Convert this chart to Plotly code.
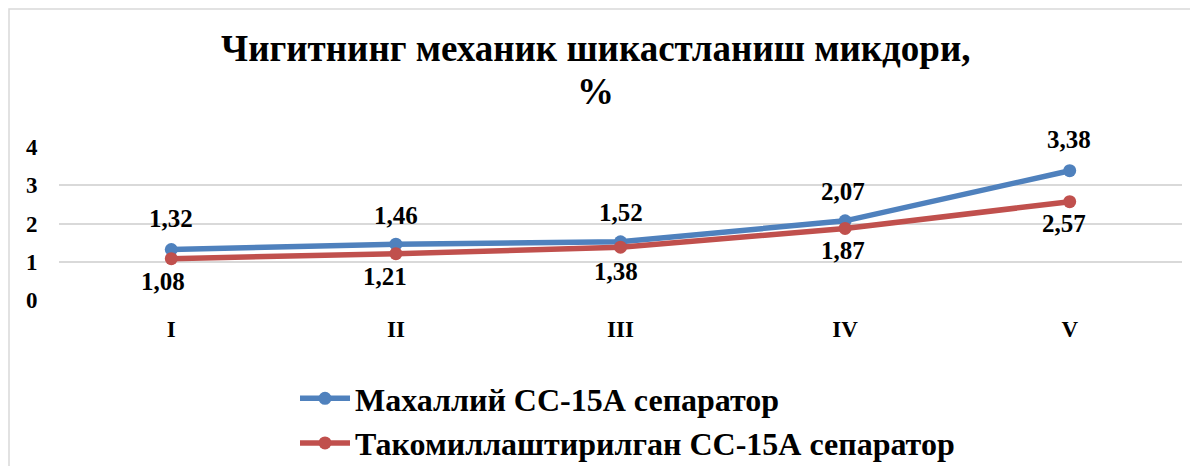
import plotly.graph_objects as go

categories = ["I", "II", "III", "IV", "V"]
local_vals = [1.32, 1.46, 1.52, 2.07, 3.38]
improved_vals = [1.08, 1.21, 1.38, 1.87, 2.57]
local_labels = ["1,32", "1,46", "1,52", "2,07", "3,38"]
improved_labels = ["1,08", "1,21", "1,38", "1,87", "2,57"]
y_ticks = [0, 1, 2, 3, 4]

series_local_name = "Махаллий СС-15А сепаратор"
series_improved_name = "Такомиллаштирилган СС-15А сепаратор"
title_line1 = "Чигитнинг механик шикастланиш микдори,"
title_line2 = "%"

# label offsets (pixels) - styling only
local_dx = [0, 0, 0, -2, -1]
local_dy = [31, 29, 29, 29, 31]
improved_dx = [-8, -11, -5, -2, -6]
improved_dy = [-23, -23, -24, -22, -22]

BLUE = "#4F81BD"
RED = "#C0504D"
FONT = "Liberation Serif"

# the page body has an 8px margin; size the figure so it fills the window
OFF = 8
W, H = 1198 - OFF, 466 - OFF
ML, MR, MT, MB = 59 - OFF, 16, 147 - OFF, 166
PW = W - ML - MR
PH = H - MT - MB


def px(xw):
    """window pixel x -> paper x"""
    return (xw - OFF - ML) / PW


def py(yw):
    """window pixel y -> paper y"""
    return (H - MB - (yw - OFF)) / PH


fig = go.Figure()
fig.add_trace(go.Scatter(
    x=categories, y=local_vals, mode="lines+markers", name=series_local_name,
    line=dict(color=BLUE, width=5.5), marker=dict(color=BLUE, size=13),
))
fig.add_trace(go.Scatter(
    x=categories, y=improved_vals, mode="lines+markers", name=series_improved_name,
    line=dict(color=RED, width=5.5), marker=dict(color=RED, size=13),
))

annotations = []
for c, v, t, dx, dy in zip(categories, local_vals, local_labels, local_dx, local_dy):
    annotations.append(dict(x=c, y=v, text=f"<b>{t}</b>", showarrow=False,
                            xanchor="center", yanchor="middle", xshift=dx, yshift=dy,
                            font=dict(family=FONT, size=25, color="black")))
for c, v, t, dx, dy in zip(categories, improved_vals, improved_labels, improved_dx, improved_dy):
    annotations.append(dict(x=c, y=v, text=f"<b>{t}</b>", showarrow=False,
                            xanchor="center", yanchor="middle", xshift=dx, yshift=dy,
                            font=dict(family=FONT, size=25, color="black")))

# title lines
annotations.append(dict(xref="paper", yref="paper", x=px(595), y=py(48),
                        text=f"<b>{title_line1}</b>", showarrow=False, xanchor="center", yanchor="middle",
                        font=dict(family=FONT, size=37, color="black")))
annotations.append(dict(xref="paper", yref="paper", x=px(595), y=py(91),
                        text=f"<b>{title_line2}</b>", showarrow=False, xanchor="center", yanchor="middle",
                        font=dict(family=FONT, size=37, color="black")))

shapes = [dict(type="rect", xref="paper", yref="paper",
               x0=px(9), x1=px(1230), y0=py(500), y1=py(9),
               line=dict(color="#D9D9D9", width=1.5), fillcolor="rgba(0,0,0,0)", layer="below")]

fig.update_layout(
    width=W, height=H,
    margin=dict(l=ML, r=MR, t=MT, b=MB, autoexpand=False),
    paper_bgcolor="white", plot_bgcolor="white",
    showlegend=True,
    legend=dict(orientation="v", x=px(295), xanchor="left",
                y=py(371), yanchor="top",
                font=dict(family=FONT, size=32, color="black", weight="bold"),
                itemwidth=50, tracegroupgap=0, bgcolor="rgba(0,0,0,0)"),
    annotations=annotations,
    shapes=shapes,
    xaxis=dict(type="category", range=[-0.5, 4.5], showgrid=False, zeroline=False, showline=False,
               ticks="outside", ticklen=8, tickcolor="rgba(0,0,0,0)",
               tickfont=dict(family=FONT, size=23, color="black"),
               tickvals=categories, ticktext=[f"<b>{c}</b>" for c in categories]),
    yaxis=dict(range=[0, 4], showgrid=True, gridcolor="#D9D9D9", gridwidth=1.5,
               zeroline=False, showline=False,
               tickvals=y_ticks, ticktext=[f"<b>{v}</b>" for v in y_ticks],
               ticks="outside", ticklen=16, tickcolor="rgba(0,0,0,0)",
               tickfont=dict(family=FONT, size=23, color="black")),
)

fig.write_html("out.html")
